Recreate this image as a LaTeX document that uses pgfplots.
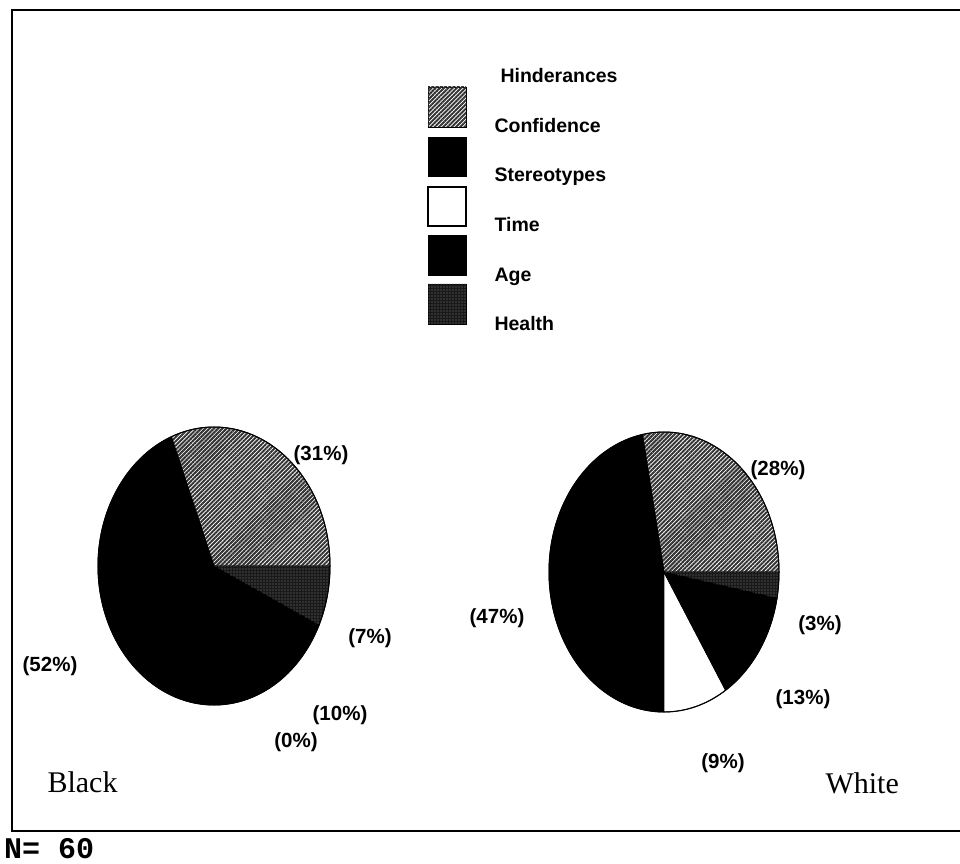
\documentclass[border=0pt]{standalone}
\usepackage{fontspec}
\setmainfont{Liberation Serif}
\setsansfont{Liberation Sans}
\setmonofont{Liberation Mono}
\usepackage{pgfplots}
\pgfplotsset{compat=1.18}
\usetikzlibrary{patterns.meta}

% slice styles
\tikzset{
  conf/.style={fill=white, draw=black, line width=0.9pt,
    postaction={pattern={Lines[angle=45,distance=3pt,line width=2pt]}, pattern color=black!80}},
  ster/.style={fill=black, draw=black, line width=0.9pt},
  time/.style={fill=white, draw=black, line width=0.9pt},
  age/.style={fill=black, draw=black, line width=0.9pt},
  health/.style={fill=black!90, draw=black, line width=0.9pt,
    postaction={pattern={Dots[distance=3pt,radius=0.55pt]}, pattern color=white!50!black}},
  pct/.style={font=\sffamily\bfseries\fontsize{20.5}{23}\selectfont},
  leg/.style={font=\sffamily\bfseries\fontsize{19.5}{22}\selectfont, anchor=base west},
}

% one slice: centre x, centre y, x radius, y radius, start (%), share (%), style
\newcommand\pieslice[7]{%
  \filldraw[#7] (axis cs:#1,#2)
    -- (axis cs:{#1+#3*cos(3.6*#5)},{#2+#4*sin(3.6*#5)})
    arc[start angle={3.6*#5}, end angle={3.6*(#5+#6)}, x radius=#3pt, y radius=#4pt]
    -- cycle;}

\begin{document}
\begin{tikzpicture}
\useasboundingbox (0,0) rectangle (960pt,863pt);
\begin{axis}[x=1pt, y=1pt, xmin=0, xmax=960, ymin=0, ymax=863,
  hide axis, clip=false, scale only axis, at={(0,0)}, anchor=south west]

% frame (open on the right)
\draw[line width=2pt] (axis cs:960,853) -- (axis cs:12,853) -- (axis cs:12,32) -- (axis cs:960,32);

% legend
\node[leg] at (axis cs:497,780) {Hinderances};
\filldraw[conf] (axis cs:428,776) rectangle (axis cs:466,736);
\node[leg] at (axis cs:491,730) {Confidence};
\filldraw[ster] (axis cs:428,726) rectangle (axis cs:466,687);
\node[leg] at (axis cs:491,681) {Stereotypes};
\filldraw[time, line width=1.4pt] (axis cs:428,676) rectangle (axis cs:466,637);
\node[leg] at (axis cs:491,631) {Time};
\filldraw[age] (axis cs:428,628) rectangle (axis cs:466,588);
\node[leg] at (axis cs:491,581) {Age};
\filldraw[health] (axis cs:428,579) rectangle (axis cs:466,539);
\node[leg] at (axis cs:491,532) {Health};

% Black respondents: Confidence 31, Stereotypes 52, Time 0, Age 10, Health 7
\pieslice{214}{297}{116}{139}{0}{31}{conf}
\pieslice{214}{297}{116}{139}{31}{52}{ster}
\pieslice{214}{297}{116}{139}{83}{0}{time}
\pieslice{214}{297}{116}{139}{83}{10}{age}
\pieslice{214}{297}{116}{139}{93}{7}{health}
\draw[line width=1pt] (axis cs:214,297) ellipse[x radius=116pt, y radius=139pt];

% White respondents: Confidence 28, Stereotypes 47, Time 9, Age 13, Health 3
\pieslice{664}{291}{115}{140}{0}{28}{conf}
\pieslice{664}{291}{115}{140}{28}{47}{ster}
\pieslice{664}{291}{115}{140}{75}{9}{time}
\pieslice{664}{291}{115}{140}{84}{13}{age}
\pieslice{664}{291}{115}{140}{97}{3}{health}
\draw[line width=1pt] (axis cs:664,291) ellipse[x radius=115pt, y radius=140pt];

% slice labels
\node[pct] at (axis cs:321,408) {(31\%)};
\node[pct] at (axis cs:370,225) {(7\%)};
\node[pct] at (axis cs:340,148) {(10\%)};
\node[pct] at (axis cs:296,121) {(0\%)};
\node[pct] at (axis cs:50,197) {(52\%)};
\node[pct] at (axis cs:778,393) {(28\%)};
\node[pct] at (axis cs:820,238) {(3\%)};
\node[pct] at (axis cs:803,164) {(13\%)};
\node[pct] at (axis cs:723,100) {(9\%)};
\node[pct] at (axis cs:497,245) {(47\%)};

% group names
\node[font=\rmfamily\fontsize{30}{34}\selectfont, anchor=base west] at (axis cs:44,71) {Black};
\node[font=\rmfamily\fontsize{30}{34}\selectfont, anchor=base west] at (axis cs:822,70) {White};

% sample size
\node[font=\ttfamily\bfseries\fontsize{30}{32}\selectfont, anchor=base west, inner sep=0pt] at (axis cs:4,5) {N= 60};
\end{axis}
\end{tikzpicture}
\end{document}
